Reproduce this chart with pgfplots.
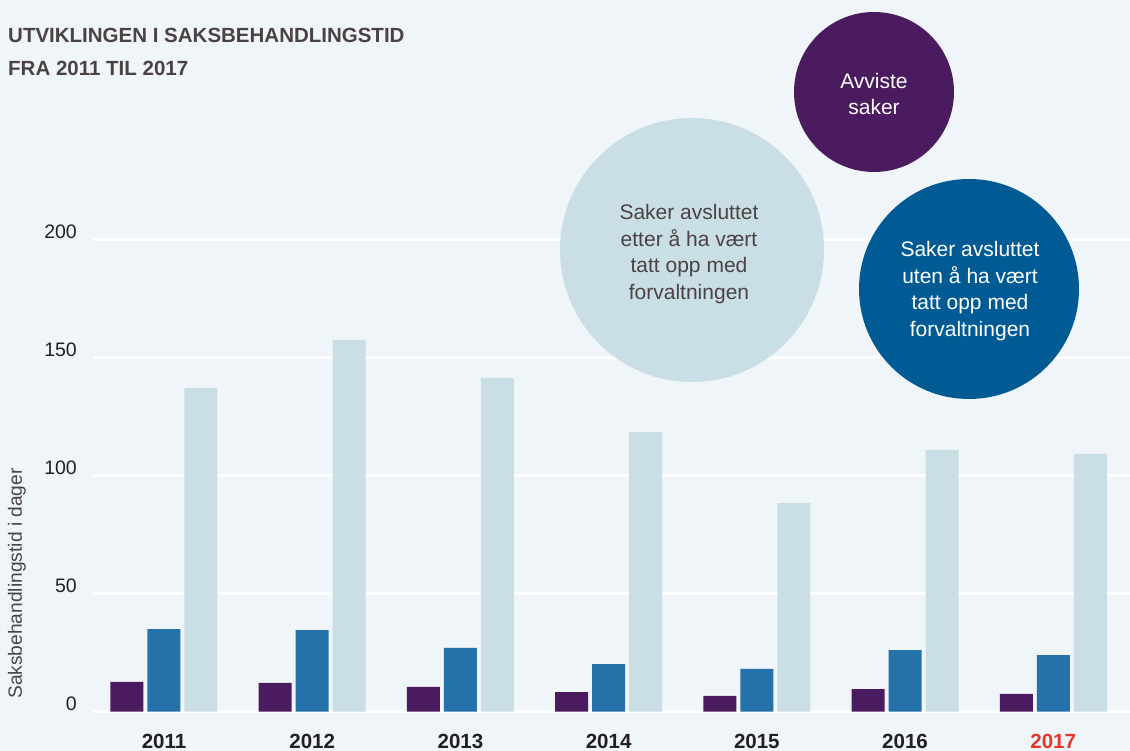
\documentclass[border=0pt]{standalone}
\usepackage{pgfplots}
\pgfplotsset{compat=1.18}
\usepackage{fontspec}
\setmainfont{Liberation Sans}
\definecolor{bg}{HTML}{EFF5F8}
\definecolor{cpurple}{HTML}{4A1B5F}
\definecolor{cblue}{HTML}{2571A9}
\definecolor{clight}{HTML}{CADFE5}
\definecolor{cdark}{HTML}{005A94}
\definecolor{ctitle}{HTML}{4B4244}
\definecolor{cred}{HTML}{E4372A}
\definecolor{ctick}{HTML}{231F20}
\definecolor{clabel}{HTML}{4A4545}
\begin{document}
\begin{tikzpicture}[x=1pt,y=1pt]
\fill[bg] (0,0) rectangle (1130,751);
\begin{axis}[
  at={(93pt,39.3pt)}, anchor=south west,
  scale only axis, width=1037pt, height=472pt,
  xmin=-0.479, xmax=6.518, ymin=0, ymax=200,
  axis line style={draw=none}, major tick length=0pt,
  ymajorgrids, grid style={white, line width=2.4pt},
  ybar=4pt, bar width=33pt,
  /pgf/number format/assume math mode=true,
  xtick={0,1,2,3,4,5,6},
  xticklabels={2011,2012,2013,2014,2015,2016,\textcolor{cred}{2017}},
  ytick={0,50,100,150,200},
  yticklabel style={font=\fontsize{19.5}{19.5}\selectfont, color=ctick, anchor=base east, inner sep=0pt, xshift=-16pt, yshift=1pt},
  xticklabel style={font=\fontsize{20.5}{20.5}\selectfont\bfseries, color=ctick, anchor=base, inner sep=0pt, yshift=-36.8pt},
  clip=false,
]
\addplot[fill=cpurple, draw=none] coordinates {(0,12.6) (1,12.2) (2,10.5) (3,8.3) (4,6.7) (5,9.6) (6,7.5)};
\addplot[fill=cblue, draw=none] coordinates {(0,35.0) (1,34.6) (2,27.0) (3,20.2) (4,18.1) (5,26.1) (6,24.0)};
\addplot[fill=clight, draw=none] coordinates {(0,137.2) (1,157.5) (2,141.4) (3,118.5) (4,88.4) (5,110.9) (6,109.2)};
\end{axis}
% title
\node[anchor=base west, inner sep=0, font=\fontsize{20.5}{20.5}\selectfont\bfseries, text=ctitle] at (8,708) {UTVIKLINGEN I SAKSBEHANDLINGSTID};
\node[anchor=base west, inner sep=0, font=\fontsize{20.5}{20.5}\selectfont\bfseries, text=ctitle] at (8,675) {FRA 2011 TIL 2017};
% y label
\node[rotate=90, inner sep=0, font=\fontsize{19.2}{19.2}\selectfont, text=clabel] at (17,167.5) {Saksbehandlingstid i dager};
% circles
\fill[clight] (692,501) circle (132);
\fill[cpurple] (874,659) circle (80);
\fill[cdark] (969,462) circle (110);
\node[align=center, inner sep=0, font=\fontsize{21}{26.8}\selectfont, text=ctitle] at (689,497) {Saker avsluttet\\etter å ha vært\\tatt opp med\\forvaltningen};
\node[align=center, inner sep=0, font=\fontsize{21}{26.8}\selectfont, text=white] at (874,657) {Avviste\\saker};
\node[align=center, inner sep=0, font=\fontsize{21}{26.8}\selectfont, text=white] at (970,460) {Saker avsluttet\\uten å ha vært\\tatt opp med\\forvaltningen};
\pgfresetboundingbox
\useasboundingbox (0,0) rectangle (1130,751);
\end{tikzpicture}
\end{document}
